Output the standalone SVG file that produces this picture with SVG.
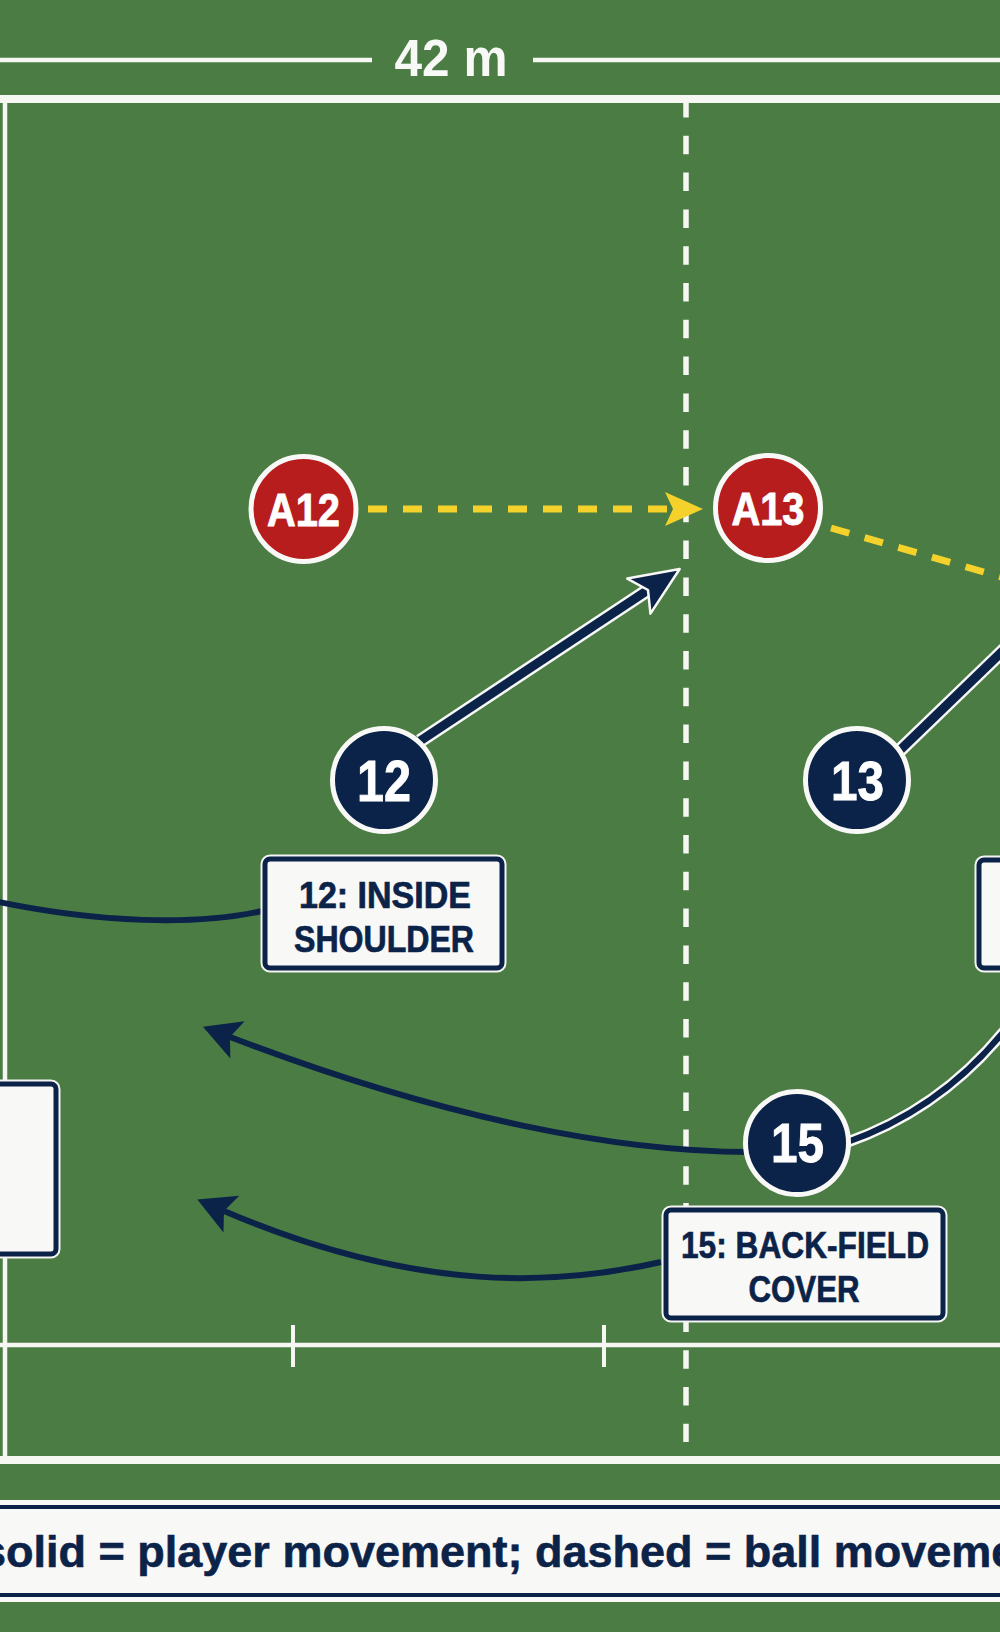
<svg xmlns="http://www.w3.org/2000/svg" width="1000" height="1632" viewBox="0 0 1000 1632">
<defs>
<style>
.fl{stroke:#f6f6f2;fill:none}
.cond{font-family:"Liberation Sans Narrow","Liberation Sans","DejaVu Sans Condensed",sans-serif;font-weight:bold}
.wide{font-family:"Liberation Sans","DejaVu Sans",sans-serif;font-weight:bold}
.node-t{fill:#ffffff;stroke:#ffffff;stroke-width:0.9;text-anchor:middle}
.lbl-t{fill:#0c2349;stroke:#0c2349;stroke-width:0.7;text-anchor:middle;font-size:37px}
.navy{fill:#0c2349;stroke:#f8f8f6;stroke-width:5}
.red{fill:#b71d1d;stroke:#f8f8f6;stroke-width:5}
.box-o{fill:#ffffff;stroke:#f4f4f2;stroke-width:9}
.box{fill:#f8f8f6;stroke:#0c2349;stroke-width:5}
.ball{stroke:#f4d22b;stroke-width:7;fill:none;stroke-dasharray:19 16}
.run-o{stroke:#f8f8f6;fill:none}
.run{stroke:#0c2349;fill:none}
</style>
<marker id="ahY" markerUnits="userSpaceOnUse" orient="auto" overflow="visible" markerWidth="40" markerHeight="40" refX="0" refY="0"><path d="M-8,-17 L30,0 L-8,17 L0,0 z" fill="#f4d22b"/></marker>
<marker id="ahN" markerUnits="userSpaceOnUse" orient="auto" overflow="visible" markerWidth="50" markerHeight="50" refX="0" refY="0"><path d="M-11,-21 L38,0 L-11,21 L0,0 z" fill="#0c2349" stroke="#f8f8f6" stroke-width="2.5" stroke-linejoin="round"/></marker>
<marker id="ahT" markerUnits="userSpaceOnUse" orient="auto" overflow="visible" markerWidth="40" markerHeight="40" refX="0" refY="0"><path d="M-8,-20 L29,0 L-8,20 L0,0 z" fill="#0c2349"/></marker>
</defs>

<rect x="0" y="0" width="1000" height="1632" fill="#4a7c44"/>

<g id="field">
  <line class="fl" x1="0" y1="60" x2="372" y2="60" stroke-width="4.5"/>
  <line class="fl" x1="533" y1="60" x2="1000" y2="60" stroke-width="4.5"/>
  <text class="wide" x="451" y="76" font-size="51" fill="#f8f8f6" text-anchor="middle" textLength="113" lengthAdjust="spacingAndGlyphs">42 m</text>
  <line class="fl" x1="0" y1="99" x2="1000" y2="99" stroke-width="8"/>
  <line class="fl" x1="0" y1="1460" x2="1000" y2="1460" stroke-width="8"/>
  <line class="fl" x1="5" y1="99" x2="5" y2="1460" stroke-width="4.5"/>
  <line class="fl" x1="0" y1="1345" x2="1000" y2="1345" stroke-width="4.5"/>
  <line class="fl" x1="293" y1="1325" x2="293" y2="1367" stroke-width="4"/>
  <line class="fl" x1="604" y1="1325" x2="604" y2="1367" stroke-width="4"/>
  <line class="fl" x1="686" y1="99" x2="686" y2="1442" stroke-width="5.5" stroke-dasharray="18.5 18.3"/>
</g>

<g id="connectors">
  <path class="ball" d="M368,509 L673,509" marker-end="url(#ahY)"/>
  <path class="ball" d="M831,528 L1015,581"/>
  <path class="run" stroke-width="6" d="M262,911 C200,925 100,925 -20,898"/>
  <path class="run" stroke-width="6" d="M750,1152 C620,1152 447,1120 230,1037" marker-end="url(#ahT)"/>
  <path class="run" stroke-width="6" d="M661,1262 C560,1285 420,1295 224,1211" marker-end="url(#ahT)"/>
  <path class="run-o" stroke-width="11" d="M845,1143 Q940,1110 1005,1030"/>
  <path class="run" stroke-width="6" d="M845,1143 Q940,1110 1005,1030"/>
  <path class="run-o" stroke-width="14" d="M420,741 L648,590"/>
  <path class="run" stroke-width="9" d="M420,741 L648,590" marker-end="url(#ahN)"/>
  <path class="run-o" stroke-width="14" d="M895,755 L1040,615"/>
  <path class="run" stroke-width="9" d="M895,755 L1040,615"/>
</g>

<g id="node-A12">
  <circle class="red" cx="303.5" cy="509" r="52.5"/>
  <text class="cond node-t" x="303.5" y="526" font-size="46" textLength="73" lengthAdjust="spacingAndGlyphs">A12</text>
</g>
<g id="node-A13">
  <circle class="red" cx="768" cy="508" r="52.5"/>
  <text class="cond node-t" x="768" y="525" font-size="46" textLength="73" lengthAdjust="spacingAndGlyphs">A13</text>
</g>
<g id="node-12">
  <circle class="navy" cx="384" cy="780" r="51.5"/>
  <text class="cond node-t" x="384" y="801" font-size="57" textLength="54" lengthAdjust="spacingAndGlyphs">12</text>
</g>
<g id="node-13">
  <circle class="navy" cx="857" cy="780" r="51.5"/>
  <text class="cond node-t" x="857.5" y="800" font-size="56" textLength="53" lengthAdjust="spacingAndGlyphs">13</text>
</g>
<g id="node-15">
  <circle class="navy" cx="797" cy="1143" r="51.5"/>
  <text class="cond node-t" x="797.5" y="1162" font-size="55" textLength="53" lengthAdjust="spacingAndGlyphs">15</text>
</g>

<g id="label-12">
  <rect class="box-o" x="265" y="859" width="237" height="109" rx="5"/>
  <rect class="box" x="265" y="859" width="237" height="109" rx="5"/>
  <text class="cond lbl-t" x="385" y="908" textLength="172" lengthAdjust="spacingAndGlyphs">12: INSIDE</text>
  <text class="cond lbl-t" x="384" y="952" textLength="180" lengthAdjust="spacingAndGlyphs">SHOULDER</text>
</g>
<g id="label-13">
  <rect class="box-o" x="979" y="860" width="200" height="108" rx="5"/>
  <rect class="box" x="979" y="860" width="200" height="108" rx="5"/>
</g>
<g id="label-left">
  <rect class="box-o" x="-150" y="1084" width="206" height="170" rx="5"/>
  <rect class="box" x="-150" y="1084" width="206" height="170" rx="5"/>
</g>
<g id="label-15">
  <rect class="box-o" x="666" y="1210" width="277" height="108" rx="5"/>
  <rect class="box" x="666" y="1210" width="277" height="108" rx="5"/>
  <text class="cond lbl-t" x="805" y="1258" textLength="248" lengthAdjust="spacingAndGlyphs">15: BACK-FIELD</text>
  <text class="cond lbl-t" x="804" y="1302" textLength="111" lengthAdjust="spacingAndGlyphs">COVER</text>
</g>

<g id="legend">
  <rect x="-10" y="1500" width="1020" height="102" fill="#f8f8f6"/>
  <rect x="-10" y="1507" width="1020" height="88" fill="#f8f8f6" stroke="#0c2349" stroke-width="4"/>
  <text class="wide" x="-19" y="1567" font-size="45" fill="#0c2349" stroke="#0c2349" stroke-width="0.6">solid = player movement; dashed = ball movement</text>
</g>
</svg>
